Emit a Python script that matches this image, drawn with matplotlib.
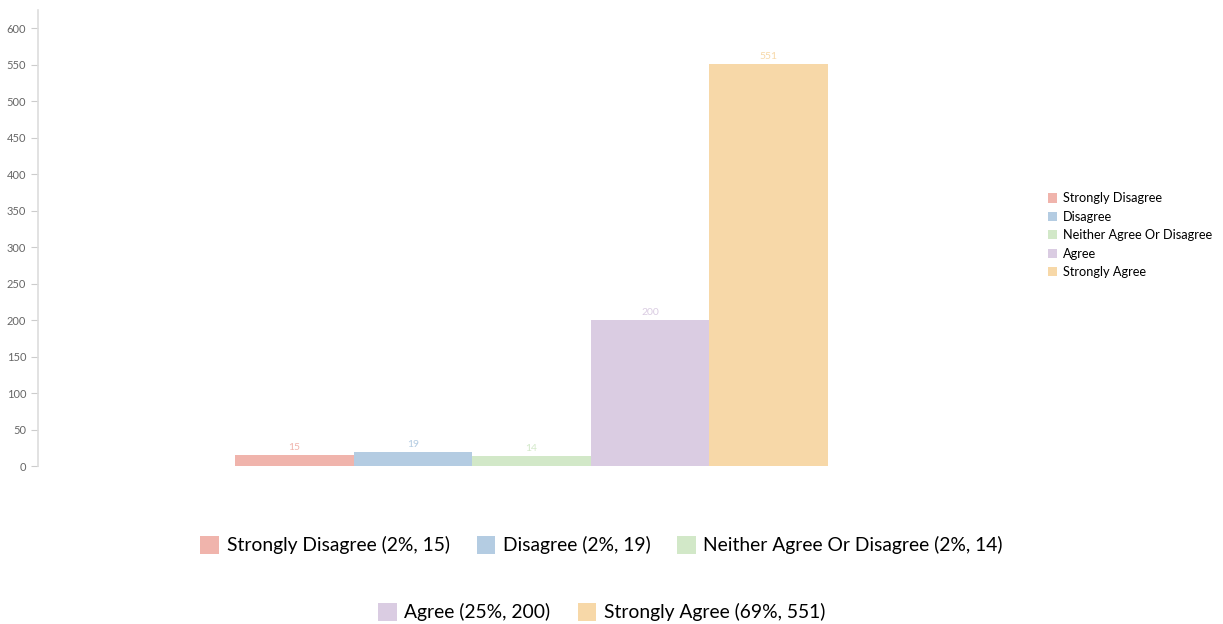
import matplotlib

matplotlib.use("Agg")
import matplotlib.pyplot as plt
from matplotlib.patches import Patch

plt.rcParams["font.family"] = ["Lato", "DejaVu Sans"]

responses = [
    "Strongly Disagree",
    "Disagree",
    "Neither Agree Or Disagree",
    "Agree",
    "Strongly Agree",
]
counts = [15, 19, 14, 200, 551]
percents = [2, 2, 2, 25, 69]
colors = ["#F0B4AC", "#B4CCE2", "#D2E8C8", "#DACCE2", "#F7D8A8"]
y_ticks = [0, 50, 100, 150, 200, 250, 300, 350, 400, 450, 500, 550, 600]

fig = plt.figure(figsize=(12.23, 6.24), dpi=100)
ax = fig.add_axes([0.0311, 0.2532, 0.7866, 0.7308])

positions = list(range(len(responses)))
bars = ax.bar(positions, counts, width=1.0, color=colors, linewidth=0)
for bar, count, color in zip(bars, counts, colors):
    ax.text(
        bar.get_x() + bar.get_width() / 2,
        count + 4,
        str(count),
        ha="center",
        va="bottom",
        fontsize=7.5,
        color=color,
    )

ax.set_xlim(-2.16, 5.95)
ax.set_ylim(0, 625)
ax.set_yticks(y_ticks)
ax.tick_params(
    axis="y", labelsize=8, labelcolor="#666666", color="#cccccc", length=5, width=0.8
)
ax.set_xticks([])
for side in ["top", "right", "bottom"]:
    ax.spines[side].set_visible(False)
ax.spines["left"].set_color("#dddddd")
ax.spines["left"].set_linewidth(1.2)

# compact legend on the right
side_handles = [Patch(facecolor=c, edgecolor="none") for c in colors]
fig.legend(
    side_handles,
    responses,
    loc="center left",
    bbox_to_anchor=(1036 / 1223, 0.623),
    frameon=False,
    fontsize=9.2,
    handlelength=0.75,
    handleheight=0.75,
    handletextpad=0.45,
    labelspacing=0.5,
)

# detailed legend below the chart, in two rows
labels = [f"{r} ({p}%, {c})" for r, c, p in zip(responses, counts, percents)]
rows = [(0, 3, 1 - 545 / 624), (3, 5, 1 - 612 / 624)]
for start, stop, y in rows:
    fig.legend(
        side_handles[start:stop],
        labels[start:stop],
        loc="center",
        bbox_to_anchor=(0.492, y),
        ncol=stop - start,
        frameon=False,
        fontsize=13.9,
        handlelength=0.95,
        handleheight=1.05,
        handletextpad=0.4,
        columnspacing=1.4,
    )

fig.savefig("out.png", dpi=100)
